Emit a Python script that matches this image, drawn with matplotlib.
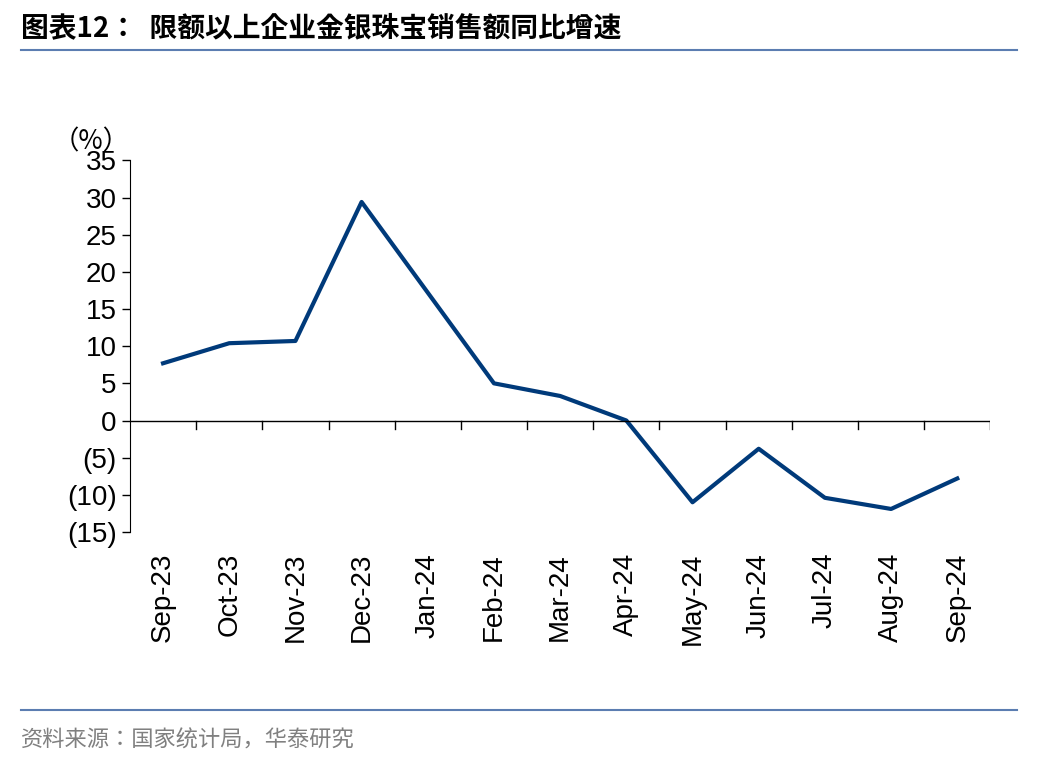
import numpy as np
import matplotlib.pyplot as plt
from matplotlib.lines import Line2D
from matplotlib import font_manager as fm

months = ['Sep-23', 'Oct-23', 'Nov-23', 'Dec-23', 'Jan-24', 'Feb-24', 'Mar-24',
          'Apr-24', 'May-24', 'Jun-24', 'Jul-24', 'Aug-24', 'Sep-24']
growth = [7.7, 10.4, 10.7, 29.4, 17.2, 5.0, 3.3, 0.0, -11.0, -3.8, -10.4, -11.9, -7.8]
yticks = [35, 30, 25, 20, 15, 10, 5, 0, -5, -10, -15]
ylabels = ['35', '30', '25', '20', '15', '10', '5', '0', '(5)', '(10)', '(15)']


def cjk_font(size, weight='normal'):
    files = [f for f in fm.findSystemFonts() if 'CJK' in f]
    if weight == 'bold':
        bold = [f for f in files if 'Bold' in f]
        files = bold or files
    else:
        reg = [f for f in files if 'Regular' in f]
        files = reg or files
    if files:
        return fm.FontProperties(fname=sorted(files)[0], size=size)
    return fm.FontProperties(family='Noto Sans CJK SC', size=size, weight=weight)


def main():
    plt.rcParams['font.family'] = 'Liberation Sans'
    fig = plt.figure(figsize=(10.48, 7.6), dpi=100)
    ax = fig.add_axes([0.124, 0.30, 0.821, 0.489])
    x = np.arange(len(months))
    ax.plot(x, growth, color='#003A7A', lw=3)
    ax.set_xlim(-0.5, len(months) - 0.5)
    ax.set_ylim(-15, 35)
    ax.set_yticks(yticks)
    ax.set_yticklabels(ylabels, fontsize=20)
    ax.tick_params(axis='y', direction='out', length=6, width=1)
    for s in ['top', 'right', 'bottom']:
        ax.spines[s].set_visible(False)
    ax.axhline(0, color='black', lw=1)
    for b in np.arange(0.5, len(months), 1):
        ax.plot([b, b], [0, -1.2], color='black', lw=1)
    ax.set_xticks(x)
    ax.set_xticklabels(months, rotation=90, fontsize=20)
    ax.tick_params(axis='x', length=0, pad=15)
    ax.text(0.0, 1.03, '（%）', transform=ax.transAxes, ha='right',
            fontproperties=cjk_font(19))

    fig.text(0.02, 0.952, '图表12：  限额以上企业金银珠宝销售额同比增速',
             fontproperties=cjk_font(20, 'bold'))
    fig.add_artist(Line2D([0.02, 0.97], [0.934, 0.934], color='#5B7DB1', lw=1.5))
    fig.add_artist(Line2D([0.02, 0.97], [0.066, 0.066], color='#5B7DB1', lw=1.5))
    fig.text(0.02, 0.018, '资料来源：国家统计局，华泰研究', color='#808080',
             fontproperties=cjk_font(16))
    fig.savefig('out.png')


if __name__ == "__main__":
    main()
